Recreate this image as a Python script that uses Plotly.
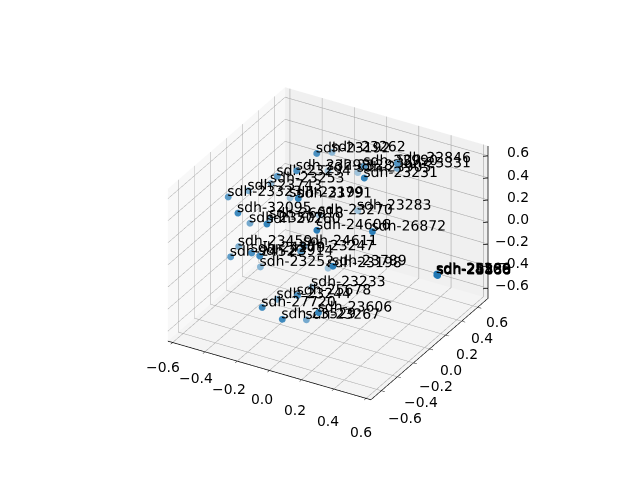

import plotly.graph_objects as go

labels = ["sdh-23192","sdh-23262","sdh-22846","sdh-23331","sdh-23231","sdh-23905","sdh-23990","sdh-23298","sdh-23282","sdh-23294","sdh-23253","sdh-23743","sdh-23323","sdh-23199","sdh-23791","sdh-32095","sdh-23507","sdh-27260","sdh-23283","sdh-23270","sdh-24606","sdh-26872","sdh-23459","sdh-24529","sdh-24279","sdh-23914","sdh-23252","sdh-23247","sdh-24611","sdh-23198","sdh-23789","sdh-23233","sdh-25678","sdh-23244","sdh-27720","sdh-23606","sdh-23529","sdh-23267","sdh-28480","sdh-25559","sdh-24100","sdh-23888","sdh-25366","sdh-26533","sdh-26018"]
x_vals = [-0.14,-0.14,0.27,0.22,0.19,-0.03,0.12,-0.17,-0.19,-0.29,-0.4,-0.46,-0.49,-0.31,-0.09,-0.37,-0.39,-0.2,0.02,-0.17,0.06,0.32,-0.43,-0.4,-0.27,-0.21,-0.32,-0.08,-0.11,-0.04,0.18,-0.09,0.0,-0.18,-0.13,0.16,-0.02,0.0,0.61,0.61,0.61,0.61,0.61,0.61,-0.35]
y_vals = [0.14,0.33,0.32,0.42,0.07,0.43,0.21,-0.05,0.38,-0.05,0.09,-0.07,-0.26,0.15,-0.19,-0.38,-0.19,-0.36,0.33,0.23,-0.26,-0.09,-0.25,-0.41,-0.41,-0.43,-0.2,-0.18,-0.08,0.08,-0.3,-0.02,-0.38,-0.27,-0.56,-0.44,-0.53,-0.27,0.14,0.14,0.13,0.14,0.13,0.14,-0.02]
z_vals = [0.67,0.56,0.64,0.51,0.63,0.36,0.62,0.62,0.34,0.52,0.32,0.33,0.38,0.19,0.49,0.36,0.14,0.32,0.1,0.04,0.31,0.3,-0.05,-0.03,0.06,0.07,-0.22,0.01,-0.02,-0.29,0.06,-0.42,-0.23,-0.41,-0.28,-0.28,-0.36,-0.52,-0.12,-0.11,-0.11,-0.12,-0.1,-0.11,0.09]
shades = [.8,.5,.75,.6,.9,.4,.75,.8,.35,.7,.45,.55,.7,.4,.9,.85,.6,.9,.4,.35,.95,.95,.55,.7,.8,.85,.5,.7,.6,.4,.95,.4,.8,.55,.85,.9,.85,.6,1,1,1,1,1,1,.5]
ticks = [-0.6,-0.4,-0.2,0.0,0.2,0.4,0.6]
XLIM, YLIM, ZLIM = 0.63, 0.73, 0.69
LABEL_SHIFT = (0.048, 0.080, 0.09)  # moves label anchors to where the text baseline sits
TICK_FONT = dict(family="DejaVu Sans", size=13.9, color="black")

def blend(a, bg=245):
    c = [round(bg + a * (v - bg)) for v in (31, 119, 180)]
    return f"rgb({c[0]},{c[1]},{c[2]})"

fig = go.Figure(go.Scatter3d(
    x=x_vals, y=y_vals, z=z_vals, mode="markers",
    marker=dict(size=4, color=[blend(a) for a in shades], line=dict(width=0)),
    hoverinfo="skip", showlegend=False,
))
fig.add_trace(go.Scatter3d(
    x=[v - LABEL_SHIFT[0] for v in x_vals],
    y=[v - LABEL_SHIFT[1] for v in y_vals],
    z=[v - LABEL_SHIFT[2] for v in z_vals],
    text=labels, mode="text", textposition="top right",
    textfont=dict(family="DejaVu Sans", size=14, color="black"),
    hoverinfo="skip", showlegend=False,
))

# z axis on the right-hand rear edge, as in the reference
EX, EY = XLIM * 0.999, YLIM * 0.999
fig.add_trace(go.Scatter3d(
    x=[EX, EX], y=[EY, EY], z=[-ZLIM, ZLIM], mode="lines",
    line=dict(color="black", width=1.5), hoverinfo="skip", showlegend=False))
tx, ty, tz = [], [], []
for t in ticks:
    tx += [EX - 0.02, EX, None]
    ty += [EY - 0.02, EY, None]
    tz += [t, t, None]
fig.add_trace(go.Scatter3d(
    x=tx, y=ty, z=tz, mode="lines",
    line=dict(color="black", width=1.5), hoverinfo="skip", showlegend=False))

def fmt(t):
    return f"{t:.1f}".replace("-", "\u2212")

annotations = []
for t in ticks:
    annotations.append(dict(x=t, y=-YLIM * 0.999, z=-ZLIM * 0.999, text=fmt(t), showarrow=False,
                            font=TICK_FONT, xanchor="center", yanchor="middle",
                            xshift=-7 + 3.8 * t, yshift=-(28.9 + 8.2 * t)))
    annotations.append(dict(x=XLIM * 0.999, y=t, z=-ZLIM * 0.999, text=fmt(t), showarrow=False,
                            font=TICK_FONT, xanchor="center", yanchor="middle",
                            xshift=22 - 3.7 * t, yshift=-(21 - 10.4 * t)))
    annotations.append(dict(x=EX, y=EY, z=t, text=fmt(t), showarrow=False,
                            font=TICK_FONT, xanchor="right", yanchor="middle",
                            xshift=42.5, yshift=3.5))

def axis(lim, bg, show=True):
    d = dict(range=[-lim, lim], tickvals=ticks, tickformat=".1f", tickangle=0,
             title=dict(text=""), showbackground=True, backgroundcolor=bg,
             gridcolor="#a8a8a8", gridwidth=1.2,
             zeroline=False, showspikes=False, showticklabels=False)
    if show:
        d.update(showline=True, linecolor="black", linewidth=1.5,
                 ticks="outside", ticklen=4, tickcolor="black", tickwidth=1)
    else:
        d.update(showline=False, ticks="")
    return d

D = 2.4
fig.update_layout(
    width=640, height=480, margin=dict(l=0, r=0, t=0, b=0), paper_bgcolor="white",
    scene=dict(
        domain=dict(x=[0.003, 0.997], y=[0.02, 0.998]),
        xaxis=axis(XLIM, "#f8f8f8"), yaxis=axis(YLIM, "#f0f0f0"), zaxis=axis(ZLIM, "#f4f4f4", False),
        aspectmode="manual", aspectratio=dict(x=1.0, y=1.0, z=0.75),
        camera=dict(projection=dict(type="orthographic"), up=dict(x=0, y=0, z=1),
                    center=dict(x=0, y=0, z=0),
                    eye=dict(x=0.433*D, y=-0.75*D, z=0.5*D)),
        annotations=annotations,
    ),
)
fig.write_html("out.html")
